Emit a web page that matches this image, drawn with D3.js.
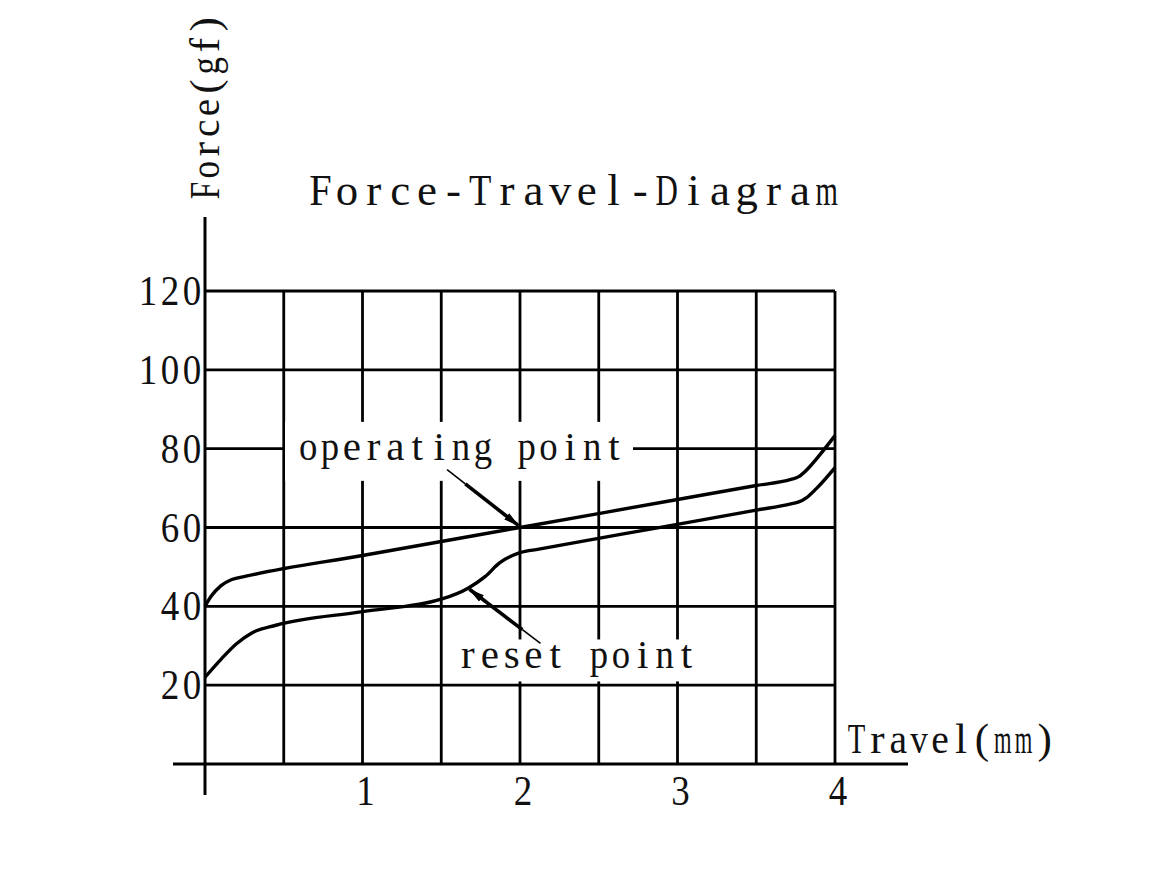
<!DOCTYPE html>
<html><head><meta charset="utf-8">
<script src="https://cdn.jsdelivr.net/npm/d3@7"></script>
<style>html,body{margin:0;padding:0;background:#fff;}svg{display:block;}</style>
</head><body>
<svg id="chart" width="1160" height="870"></svg>
<script>
// ---- data ----
const title = "Force-Travel-Diagram";
const xLabel = "Travel(mm)";
const yLabel = "Force(gf)";
const xTickValues = [1, 2, 3, 4];
const xGridValues = [0.5, 1, 1.5, 2, 2.5, 3, 3.5, 4];
const yTickValues = [20, 40, 60, 80, 100, 120];

// pressing curve (operating)
const travelPress = [0, 0.04, 0.1, 0.17, 0.26, 1.0, 2.0, 3.0, 3.5, 3.72, 3.77, 3.82, 3.88, 4.0];
const forcePress  = [40, 42.6, 45.2, 46.8, 47.65, 52.9, 60, 67.1, 70.65, 72.2, 72.9, 74.6, 77.3, 83.3];
// release curve (reset)
const travelRelease = [0, 0.1, 0.2, 0.3, 0.45, 1.0, 1.5, 1.67, 1.78, 1.87, 2.0, 2.12, 2.9, 3.5, 3.72, 3.77, 3.82, 3.88, 4.0];
const forceRelease  = [22, 26.5, 30.5, 33.3, 35.2, 38.66, 41.8, 44.6, 47.6, 51.0, 53.6, 54.5, 60.1, 64.4, 66.0, 66.5, 67.6, 69.8, 75.2];

// annotations (data units)
const annotLabels = ["operating point", "reset point"];
const annotTarget = [[2.0, 60.2], [1.67, 44.6]];
const annotTail   = [[1.537, 74.7], [2.13, 30.6]];
const annotText   = [[0.585, 77.0], [1.60, 24.3]];

// ---- scales ----
const svg = d3.select("#chart");
const x = d3.scaleLinear().domain([0, 4]).range([205, 835]);
const y = d3.scaleLinear().domain([0, 120]).range([764, 291]);
const FONT = "'Liberation Serif', 'DejaVu Serif', serif";

// monospace-like text: each character centred in a fixed pitch cell,
// glyphs wider than the cell are squeezed to fit
function monoText(sel, str, x0, y0, pitch, size, anchor) {
  const chars = Array.from(String(str));
  const total = chars.length * pitch;
  const start = anchor === "end" ? x0 - total : anchor === "middle" ? x0 - total / 2 : x0;
  const t = sel.append("text").attr("font-family", FONT).attr("font-size", size)
    .attr("text-anchor", "middle").attr("fill", "#111");
  chars.forEach((c, i) => {
    const ts = t.append("tspan").attr("x", start + pitch * (i + 0.5)).attr("y", y0).text(c);
    const w = ts.node().getComputedTextLength();
    const maxW = pitch * 0.84;
    if (w > maxW) ts.attr("textLength", maxW).attr("lengthAdjust", "spacingAndGlyphs");
  });
  return t;
}

// grid
const g = svg.append("g").attr("stroke", "#000").attr("stroke-width", 2.8);
g.selectAll("line.v").data(xGridValues).join("line")
  .attr("x1", d => x(d)).attr("x2", d => x(d))
  .attr("y1", y(0)).attr("y2", y(120));
g.selectAll("line.h").data(yTickValues).join("line")
  .attr("x1", x(0)).attr("x2", x(4))
  .attr("y1", d => y(d)).attr("y2", d => y(d));

// axes
svg.append("line").attr("x1", x(0)).attr("x2", x(0)).attr("y1", y(0) + 31).attr("y2", y(120) - 74)
  .attr("stroke", "#000").attr("stroke-width", 3);
svg.append("line").attr("x1", x(0) - 32).attr("x2", x(4) + 73).attr("y1", y(0)).attr("y2", y(0))
  .attr("stroke", "#000").attr("stroke-width", 3);

// tick labels
yTickValues.forEach(v => monoText(svg, v, x(0) - 2, y(v) + 14, 22, 42, "end"));
xTickValues.forEach(v => monoText(svg, v, x(v) + 3, y(0) + 41, 22, 42, "middle"));

// title
monoText(svg, title, 307, 205, 26.65, 45, "start");
// axis titles
monoText(svg, xLabel, 846, 753, 20.9, 43, "start");
const yl = svg.append("g").attr("transform", "translate(219,201) rotate(-90)");
monoText(yl, yLabel, 0, 0, 20.8, 43, "start");

// annotation label boxes (mask grid)
const boxes = [[x(0.508), y(86.8), 348, 59], [x(1.56), y(31.6), 253, 42]];
svg.selectAll("rect.box").data(boxes).join("rect")
  .attr("x", d => d[0]).attr("y", d => d[1]).attr("width", d => d[2]).attr("height", d => d[3])
  .attr("fill", "#fff");
annotLabels.forEach((lab, i) =>
  monoText(svg, lab, x(annotText[i][0]), y(annotText[i][1]), 21.85, 41, "start"));

// curves
const line = d3.line().x(d => x(d[0])).y(d => y(d[1])).curve(d3.curveMonotoneX);
const press = travelPress.map((t, i) => [t, forcePress[i]]);
const release = travelRelease.map((t, i) => [t, forceRelease[i]]);
svg.selectAll("path.curve").data([press, release]).join("path")
  .attr("d", line).attr("fill", "none").attr("stroke", "#000").attr("stroke-width", 3.4)
  .attr("stroke-linejoin", "round");

// arrows
const defs = svg.append("defs");
defs.append("marker").attr("id", "ah").attr("viewBox", "0 0 16 8")
  .attr("refX", 15).attr("refY", 4).attr("markerWidth", 16).attr("markerHeight", 8)
  .attr("markerUnits", "userSpaceOnUse").attr("orient", "auto")
  .append("path").attr("d", "M0,0 L16,4 L0,8 Z").attr("fill", "#000");
annotLabels.forEach((lab, i) => {
  const tx = x(annotTail[i][0]), ty = y(annotTail[i][1]);
  const hx = x(annotTarget[i][0]), hy = y(annotTarget[i][1]);
  const mx = tx + (hx - tx) * 0.25, my = ty + (hy - ty) * 0.25;
  svg.append("line").attr("x1", tx).attr("y1", ty).attr("x2", mx).attr("y2", my)
    .attr("stroke", "#000").attr("stroke-width", 1.6);
  svg.append("line").attr("x1", mx).attr("y1", my)
    .attr("x2", hx - (hx - tx) * 0.02).attr("y2", hy - (hy - ty) * 0.02)
    .attr("stroke", "#000").attr("stroke-width", 3.6).attr("marker-end", "url(#ah)");
});
</script>
</body></html>
